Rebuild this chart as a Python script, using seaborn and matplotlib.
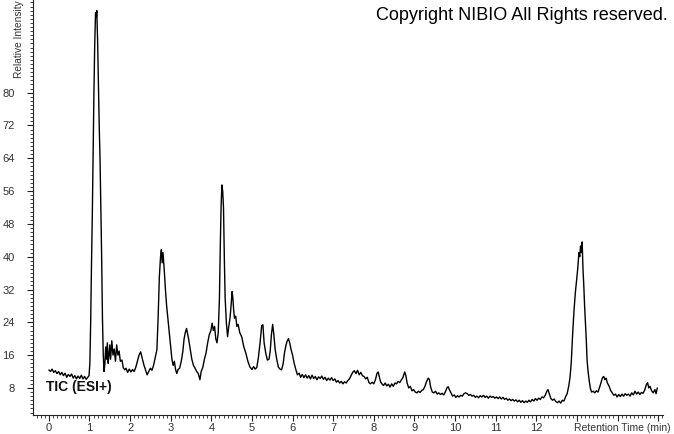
import numpy as np
import pandas as pd
import matplotlib
matplotlib.use('Agg')
import matplotlib.pyplot as plt
from matplotlib.ticker import MultipleLocator
import seaborn as sns

# retention time (min) / relative intensity
TIEMPO = [
    0.00, 0.04, 0.08, 0.12, 0.16, 0.20, 0.24, 0.28, 0.32, 0.36, 0.40, 0.44, 0.48, 0.52, 0.56, 0.60,
    0.64, 0.68, 0.72, 0.76, 0.80, 0.84, 0.88, 0.92, 0.96, 0.99,
    1.01, 1.03, 1.05, 1.07, 1.09, 1.11, 1.13, 1.15, 1.17, 1.18, 1.20, 1.22, 1.24, 1.26, 1.28, 1.30,
    1.32, 1.34, 1.36, 1.38, 1.40, 1.42, 1.44, 1.46, 1.48, 1.50, 1.52, 1.55, 1.58, 1.61, 1.64, 1.67,
    1.70, 1.73, 1.76, 1.80, 1.83, 1.87, 1.90, 1.94, 1.98, 2.02, 2.06, 2.10, 2.14, 2.18, 2.22, 2.26,
    2.30, 2.34, 2.38, 2.42, 2.46, 2.50, 2.54, 2.58, 2.62, 2.66, 2.69, 2.72, 2.75, 2.77, 2.79, 2.81,
    2.84, 2.87, 2.90, 2.93, 2.96, 3.00, 3.03, 3.06, 3.09, 3.12, 3.15, 3.18, 3.22, 3.26, 3.30, 3.33,
    3.36, 3.39, 3.41, 3.44, 3.48, 3.52, 3.56, 3.60, 3.64, 3.68, 3.72, 3.75, 3.79, 3.83, 3.87, 3.91,
    3.95, 3.99, 4.02, 4.05, 4.08, 4.11, 4.14, 4.17, 4.20, 4.22, 4.24, 4.26, 4.28, 4.30, 4.32, 4.34,
    4.37, 4.40, 4.43, 4.46, 4.49, 4.51, 4.53, 4.55, 4.57, 4.60, 4.63, 4.66, 4.70, 4.75, 4.80, 4.85,
    4.90, 4.95, 5.00, 5.04, 5.08, 5.12, 5.16, 5.20, 5.24, 5.27, 5.30, 5.34, 5.38, 5.42, 5.45, 5.48,
    5.51, 5.54, 5.57, 5.61, 5.65, 5.69, 5.73, 5.77, 5.80, 5.84, 5.87, 5.90, 5.93, 5.96, 6.00, 6.04,
    6.08, 6.12, 6.16, 6.20, 6.24, 6.28, 6.32, 6.36, 6.40, 6.44, 6.48, 6.52, 6.56, 6.60, 6.64, 6.68,
    6.72, 6.76, 6.80, 6.84, 6.88, 6.92, 6.96, 7.00, 7.04, 7.08, 7.12, 7.16, 7.20, 7.24, 7.28, 7.32,
    7.36, 7.40, 7.44, 7.48, 7.52, 7.56, 7.60, 7.64, 7.68, 7.72, 7.76, 7.80, 7.84, 7.88, 7.92, 7.96,
    8.00, 8.04, 8.08, 8.11, 8.14, 8.17, 8.20, 8.24, 8.28, 8.32, 8.36, 8.40, 8.44, 8.48, 8.52, 8.56,
    8.60, 8.64, 8.68, 8.72, 8.76, 8.79, 8.82, 8.86, 8.90, 8.94, 8.98, 9.02, 9.06, 9.10, 9.14, 9.18,
    9.22, 9.26, 9.30, 9.34, 9.37, 9.40, 9.44, 9.48, 9.52, 9.56, 9.60, 9.64, 9.68, 9.72, 9.76, 9.80,
    9.83, 9.86, 9.90, 9.94, 9.98, 10.02, 10.06, 10.10, 10.14, 10.18, 10.22, 10.26, 10.30, 10.34, 10.38, 10.42,
    10.46, 10.50, 10.54, 10.58, 10.62, 10.66, 10.70, 10.74, 10.78, 10.82, 10.86, 10.90, 10.94, 10.98, 11.02, 11.06,
    11.10, 11.14, 11.18, 11.22, 11.26, 11.30, 11.34, 11.38, 11.42, 11.46, 11.50, 11.54, 11.58, 11.62, 11.66, 11.70,
    11.74, 11.78, 11.82, 11.86, 11.90, 11.94, 11.98, 12.02, 12.06, 12.10, 12.14, 12.18, 12.22, 12.26, 12.29, 12.32,
    12.36, 12.40, 12.44, 12.48, 12.52, 12.56, 12.60, 12.64, 12.68, 12.72, 12.76, 12.80, 12.83, 12.86, 12.88, 12.90,
    12.93, 12.96, 12.99, 13.02, 13.05, 13.07, 13.09, 13.11, 13.13, 13.15, 13.17, 13.19, 13.21, 13.23, 13.25, 13.27,
    13.30, 13.33, 13.36, 13.40, 13.44, 13.48, 13.52, 13.56, 13.60, 13.63, 13.66, 13.69, 13.72, 13.75, 13.79, 13.83,
    13.87, 13.91, 13.95, 13.99, 14.03, 14.07, 14.11, 14.15, 14.19, 14.23, 14.27, 14.31, 14.35, 14.39, 14.43, 14.47,
    14.51, 14.55, 14.59, 14.63, 14.67, 14.71, 14.74, 14.77, 14.80, 14.84, 14.88, 14.92, 14.95, 14.98,
]
INTENSIDAD = [
    12.4, 12.0, 12.6, 11.8, 12.2, 11.5, 12.0, 11.2, 11.8, 11.0, 11.6, 10.6, 11.3, 10.8, 11.4, 10.4,
    11.0, 10.2, 10.9, 10.3, 11.1, 10.2, 10.8, 10.1, 10.6, 11.0,
    14.0, 24.0, 38.0, 50.0, 66.0, 80.0, 92.0, 99.5, 98.5, 100.0, 93.0, 82.0, 72.0, 64.0, 52.0, 40.0,
    25.0, 16.0, 12.0, 14.0, 18.0, 15.0, 19.0, 14.0, 16.0, 18.5, 15.0, 19.5, 16.0, 17.5, 14.5, 18.5,
    16.0, 17.0, 14.5, 14.8, 13.0, 12.4, 12.8, 11.8, 12.6, 11.9, 12.5, 12.0, 13.0, 14.5, 16.0, 16.8,
    15.2, 13.6, 12.4, 11.2, 12.0, 12.8, 12.3, 13.6, 15.5, 17.3, 25.0, 35.0, 40.0, 41.7, 38.5, 41.0,
    37.0, 32.0, 28.0, 25.0, 22.0, 18.0, 15.0, 13.5, 14.5, 12.5, 11.5, 12.5, 12.8, 14.5, 17.0, 20.0,
    21.5, 22.5, 21.5, 20.0, 17.5, 15.0, 13.5, 12.8, 12.0, 11.5, 10.0, 12.0, 13.0, 15.0, 16.5, 19.0,
    21.0, 22.0, 23.8, 22.0, 23.0, 20.0, 19.0, 21.4, 30.0, 42.0, 52.0, 57.5, 56.0, 52.0, 40.0, 30.0,
    24.0, 20.5, 23.0, 25.0, 28.5, 31.5, 30.0, 27.0, 25.0, 25.5, 23.0, 23.5, 21.5, 20.4, 18.0, 16.5,
    14.5, 13.1, 12.5, 13.2, 12.6, 13.0, 15.5, 19.0, 23.2, 23.4, 19.0, 16.5, 14.8, 15.0, 17.0, 21.0,
    23.5, 21.0, 17.5, 15.0, 13.1, 12.6, 12.4, 14.0, 16.5, 18.5, 19.5, 20.0, 19.0, 17.5, 16.0, 14.0,
    12.5, 11.2, 11.6, 10.6, 11.3, 10.5, 11.2, 10.4, 11.0, 10.2, 11.1, 10.3, 10.8, 10.0, 10.7, 10.3,
    10.9, 10.1, 10.6, 9.8, 10.4, 9.9, 10.5, 9.8, 10.2, 9.4, 9.8, 9.2, 9.6, 9.0, 9.5, 9.2,
    9.8, 10.2, 11.0, 11.8, 12.2, 11.5, 12.3, 11.2, 11.8, 11.0, 10.8, 10.2, 10.6, 9.3, 9.0, 9.4,
    9.0, 10.0, 11.6, 11.9, 10.5, 9.4, 9.0, 8.6, 9.2, 8.5, 8.9, 8.2, 9.0, 8.4, 9.2, 9.0,
    9.6, 9.3, 10.0, 10.6, 11.9, 11.0, 9.2, 8.0, 8.4, 7.3, 7.6, 7.0, 6.8, 7.2, 6.9, 7.4,
    7.6, 8.4, 9.6, 10.4, 10.0, 8.2, 7.0, 6.8, 7.2, 6.5, 6.8, 6.4, 6.7, 6.3, 7.0, 8.0,
    8.3, 7.6, 6.8, 6.0, 6.3, 5.7, 6.1, 5.8, 6.2, 6.0, 6.6, 6.8, 6.6, 6.2, 6.4, 6.0,
    6.2, 5.7, 6.0, 5.6, 6.1, 5.8, 6.2, 5.7, 6.0, 5.5, 6.0, 5.7, 5.9, 5.5, 5.8, 5.4,
    5.8, 5.3, 5.7, 5.2, 5.5, 5.0, 5.3, 4.9, 5.2, 4.8, 5.1, 4.6, 5.0, 4.5, 4.9, 4.4,
    4.8, 4.5, 5.0, 4.6, 5.2, 4.8, 5.4, 5.0, 5.5, 5.2, 5.8, 5.6, 6.2, 7.2, 7.6, 6.6,
    5.4, 5.0, 5.3, 4.7, 4.4, 4.8, 4.3, 5.0, 4.8, 5.8, 6.6, 8.5, 10.5, 14.0, 18.0, 22.0,
    27.0, 31.0, 34.0, 37.0, 41.0, 40.0, 42.6, 41.0, 43.6, 37.0, 33.0, 28.0, 24.0, 20.0, 15.0, 12.5,
    10.0, 8.0, 7.0, 7.2, 6.8, 7.3, 7.0, 8.2, 9.5, 10.5, 10.8, 10.0, 10.4, 9.2, 8.5, 7.4,
    6.8, 6.2, 6.5, 5.8, 6.4, 5.9, 6.5, 6.0, 6.6, 6.2, 6.5, 6.0, 6.8, 6.3, 7.2, 6.5,
    7.0, 6.4, 6.9, 6.7, 7.5, 8.8, 9.3, 8.0, 8.4, 7.3, 6.8, 7.6, 6.6, 8.0,
]
Y_TICKS = [8, 16, 24, 32, 40, 48, 56, 64, 72, 80]
X_TICKS = list(range(0, 16))
X_LABELS = [str(t) if t <= 12 else '' for t in X_TICKS]

W, H = 674, 434
TEXTO = '#333333'

sns.set_style('ticks')
plt.rcParams['font.family'] = ['Liberation Sans', 'DejaVu Sans']

df = pd.DataFrame({'tiempo': TIEMPO, 'intensidad': INTENSIDAD})

fig = plt.figure(figsize=(W / 100, H / 100), dpi=100)
ax = fig.add_axes([33 / W, (H - 415) / H, (663 - 33) / W, 415 / H])

sns.lineplot(data=df, x='tiempo', y='intensidad', color='black', linewidth=1.0,
             estimator=None, sort=False, ax=ax)

ax.set_xlim(-0.39, 15.12)
ax.set_ylim(1.4, 102.6)
ax.set_xticks(X_TICKS)
ax.set_xticklabels(X_LABELS)
ax.set_yticks(Y_TICKS)
ax.xaxis.set_minor_locator(MultipleLocator(0.1))
ax.yaxis.set_minor_locator(MultipleLocator(1))
ax.tick_params(axis='both', which='major', length=4, width=0.8, color='#222222',
               labelsize=8, labelcolor=TEXTO)
ax.tick_params(axis='both', which='minor', length=2, width=0.6, color='#222222')
ax.tick_params(axis='x', which='major', pad=2)
ax.tick_params(axis='y', which='major', pad=9)
ax.set_xlabel('')
ax.set_ylabel('')
for lado in ['top', 'right']:
    ax.spines[lado].set_visible(False)
for lado in ['left', 'bottom']:
    ax.spines[lado].set_color('#222222')
    ax.spines[lado].set_linewidth(0.8)

fig.text(19 / W, 1.0, 'Relative Intensity', rotation=90, ha='center', va='top',
         fontsize=7.3, color=TEXTO)
fig.text(671 / W, 1 - 428 / H, 'Retention Time (min)', ha='right', va='center',
         fontsize=7.5, color=TEXTO)
fig.text(46 / W, 1 - 387 / H, 'TIC (ESI+)', ha='left', va='center',
         fontsize=10, fontweight='bold', color='#111111')
fig.text(376 / W, 1 - 15 / H, 'Copyright NIBIO All Rights reserved.', ha='left', va='center',
         fontsize=13, color='black')

fig.savefig('out.png', dpi=100, facecolor='white')
